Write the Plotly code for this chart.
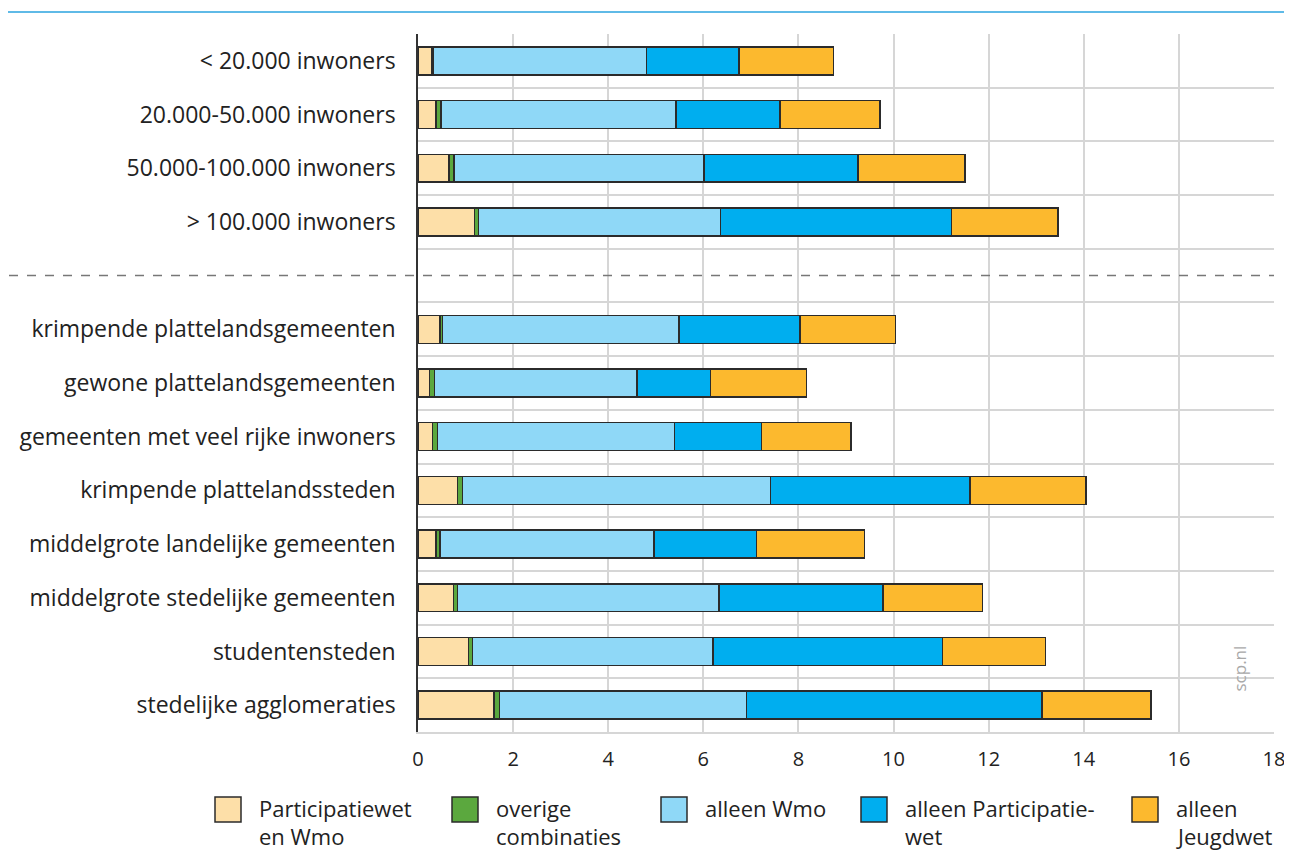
import plotly.graph_objects as go

# ---- data ----
bar_categories = [
    "< 20.000 inwoners", "20.000-50.000 inwoners", "50.000-100.000 inwoners", "> 100.000 inwoners",
    "krimpende plattelandsgemeenten", "gewone plattelandsgemeenten", "gemeenten met veel rijke inwoners",
    "krimpende plattelandssteden", "middelgrote landelijke gemeenten", "middelgrote stedelijke gemeenten",
    "studentensteden", "stedelijke agglomeraties",
]
separator = " "
category_order = bar_categories[:4] + [separator] + bar_categories[4:]

participatiewet_en_wmo = [0.29, 0.38, 0.65, 1.19, 0.46, 0.24, 0.31, 0.83, 0.38, 0.75, 1.06, 1.60]
overige_combinaties = [0.03, 0.10, 0.11, 0.08, 0.06, 0.11, 0.10, 0.11, 0.08, 0.08, 0.09, 0.11]
alleen_wmo = [4.48, 4.94, 5.25, 5.09, 4.97, 4.25, 4.98, 6.47, 4.50, 5.50, 5.05, 5.20]
alleen_participatiewet = [1.95, 2.19, 3.24, 4.86, 2.54, 1.55, 1.83, 4.20, 2.16, 3.45, 4.83, 6.21]
alleen_jeugdwet = [1.99, 2.10, 2.25, 2.24, 2.01, 2.02, 1.88, 2.44, 2.27, 2.09, 2.16, 2.29]

legend_lines = [["Participatiewet", "en Wmo"], ["overige", "combinaties"], ["alleen Wmo"],
                ["alleen Participatie-", "wet"], ["alleen", "Jeugdwet"]]
series_values = [participatiewet_en_wmo, overige_combinaties, alleen_wmo,
                 alleen_participatiewet, alleen_jeugdwet]
series_colors = ["#fddfa8", "#5ba83e", "#8fd8f7", "#00aeef", "#fcb92e"]

x_ticks = [0, 2, 4, 6, 8, 10, 12, 14, 16, 18]

# ---- layout geometry (screen pixels; page body has an 8px margin) ----
OFF = 8
W, H = 1292 - OFF, 852 - OFF
PLOT_L, PLOT_R, PLOT_T, PLOT_B = 418, 1274, 34, 732   # screen coords of plot area
L, T = PLOT_L - OFF, PLOT_T - OFF
R, B = W - (PLOT_R - OFF), H - (PLOT_B - OFF)
PW, PH = W - L - R, H - T - B


def px(x):
    return (x - OFF - L) / PW


def py(y):
    return (H - B - (y - OFF)) / PH


FONT = "Open Sans"
TXT = "#222222"
fig = go.Figure()
for lines, vals, col in zip(legend_lines, series_values, series_colors):
    fig.add_trace(go.Bar(
        y=bar_categories, x=vals, name=" ".join(lines), orientation="h",
        marker=dict(color=col, line=dict(color="#2b2b2b", width=1.5)),
        width=0.52, showlegend=False,
    ))

fig.update_layout(
    barmode="stack",
    width=W, height=H,
    margin=dict(l=L, r=R, t=T, b=B, autoexpand=False),
    paper_bgcolor="white", plot_bgcolor="white",
    font=dict(family=FONT, color=TXT),
    showlegend=False,
    xaxis=dict(
        range=[0, 18], tickvals=x_ticks, showgrid=True, gridcolor="#d6d6d6", gridwidth=1.5,
        zeroline=False, showline=True, linecolor="#d6d6d6", linewidth=1.5, automargin=False,
        tickfont=dict(size=20, family=FONT, color=TXT), ticks="", ticklabelstandoff=8,
    ),
    yaxis=dict(
        categoryorder="array", categoryarray=category_order, autorange="reversed",
        type="category", tickson="boundaries", showgrid=True, gridcolor="#d6d6d6", gridwidth=1.5,
        showline=True, linecolor="#333333", linewidth=1.5, ticks="", automargin=False,
        tickfont=dict(size=23, family=FONT, color=TXT), ticklabelstandoff=16,
    ),
)

# top rule
fig.add_shape(type="line", xref="paper", yref="paper", x0=px(OFF), x1=px(1292),
              y0=py(12), y1=py(12), line=dict(color="#2aa3df", width=1.5))
# dashed separator
fig.add_shape(type="line", xref="paper", yref="y", x0=px(9), x1=1.0,
              y0=separator, y1=separator, line=dict(color="#777777", width=1.5, dash="dash"))

# legend (drawn manually for square size / positions)
legend_x = [215, 452, 661, 861, 1132]
for lx, lines, col in zip(legend_x, legend_lines, series_colors):
    fig.add_shape(type="rect", xref="paper", yref="paper",
                  x0=px(lx), x1=px(lx + 26), y0=py(797), y1=py(822),
                  fillcolor=col, line=dict(color="#2b2b2b", width=1.5))
    for i, line in enumerate(lines):
        fig.add_annotation(text=line, xref="paper", yref="paper", x=px(lx + 42), y=py(808 + 28 * i),
                           xanchor="left", yanchor="middle", showarrow=False,
                           font=dict(size=22, family=FONT, color=TXT))

fig.add_annotation(text="scp.nl", xref="paper", yref="paper", x=px(1252),
                   y=py(694), textangle=-90, showarrow=False,
                   font=dict(size=17, family=FONT, color="#a8a8a8"))

fig.write_html("out.html")
